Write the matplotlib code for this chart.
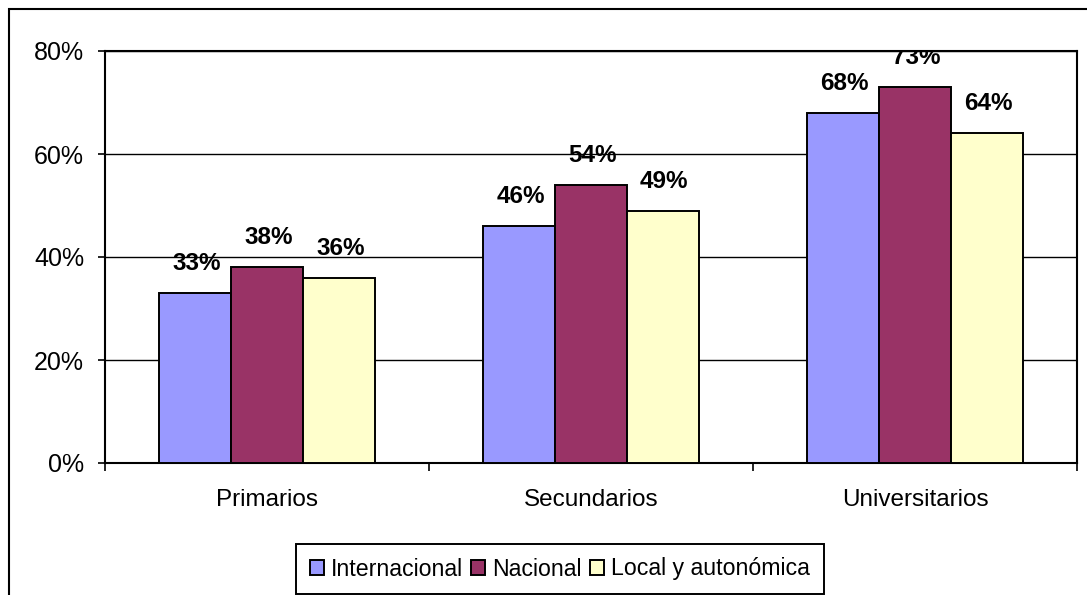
import matplotlib.pyplot as plt
from matplotlib.patches import Rectangle

categorias = ["Primarios", "Secundarios", "Universitarios"]
series = ["Internacional", "Nacional", "Local y autonómica"]
internacional = [33, 46, 68]
nacional = [38, 54, 73]
local = [36, 49, 64]
colores = ["#9999FF", "#993366", "#FFFFCC"]
yticks = [0, 20, 40, 60, 80]

plt.rcParams["font.family"] = ["Liberation Sans", "DejaVu Sans"]

fig = plt.figure(figsize=(10.87, 5.95), dpi=100)
ax = fig.add_axes([105 / 1087, 1 - 463 / 595, 972 / 1087, 412 / 595])

# marco exterior del grafico
fig.patches.append(Rectangle((9 / 1087, -0.1), 2, 1.1 - 9 / 595,
                             transform=fig.transFigure, fill=False,
                             edgecolor="black", linewidth=1.5))

ancho = 0.222
x = range(len(categorias))
valores = [internacional, nacional, local]
for i, (nombre, vals, col) in enumerate(zip(series, valores, colores)):
    pos = [xi + (i - 1) * ancho for xi in x]
    ax.bar(pos, vals, width=ancho, color=col, edgecolor="black",
           linewidth=1.4, label=nombre, zorder=3)
    for p, v in zip(pos, vals):
        t = ax.annotate(f"{v}%", (p, v), xytext=(1, 13), textcoords="offset points",
                        ha="center", va="bottom", fontsize=17.5, fontweight="bold",
                        zorder=4)
        t.set_clip_box(ax.bbox)
        t.set_clip_on(True)

ax.set_xlim(-0.5, 2.5)
ax.set_ylim(0, 80)
ax.set_yticks(yticks)
ax.set_yticklabels([f"{v}%" for v in yticks])
ax.set_xticks(list(x))
ax.set_xticklabels(categorias)
ax.set_xticks([-0.5, 0.5, 1.5, 2.5], minor=True)
ax.tick_params(axis="x", which="major", length=0, pad=19, labelsize=17.5)
ax.tick_params(axis="x", which="minor", length=6, width=1.2, direction="out")
ax.tick_params(axis="y", length=5, width=1.2, pad=10, labelsize=18)
ax.yaxis.grid(True, color="black", linewidth=1.0, zorder=0)
ax.set_axisbelow(True)
for s in ax.spines.values():
    s.set_linewidth(1.5)

leg = fig.legend(loc="center", bbox_to_anchor=(560 / 1087, 1 - 569 / 595),
                 ncol=3, fontsize=16.7, frameon=True, fancybox=False,
                 edgecolor="black", handlelength=0.6, handleheight=0.6,
                 handletextpad=0.3, columnspacing=0.35, borderpad=0.6,
                 borderaxespad=0)
leg.get_frame().set_linewidth(1.4)
leg.get_frame().set_alpha(1)

fig.savefig("out.png", dpi=100)
